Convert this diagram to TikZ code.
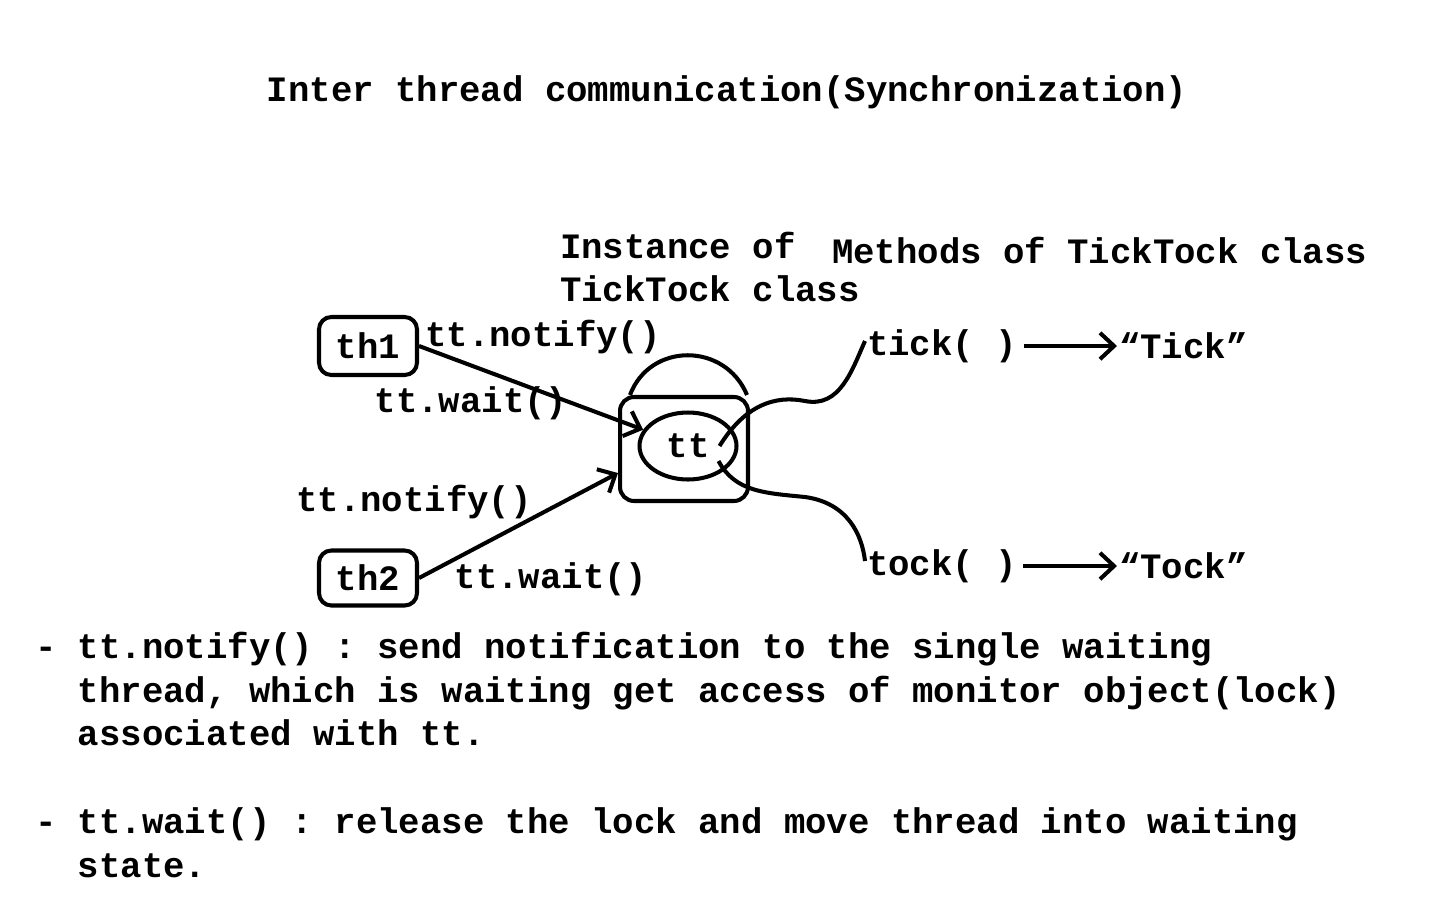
\documentclass[tikz,border=0pt]{standalone}
\usepackage{fontspec}
\setmainfont{Liberation Mono}
\frenchspacing
\usetikzlibrary{shapes.geometric,arrows.meta}
\tikzset{
  txt/.style={inner sep=0pt, font=\bfseries\fontsize{20.3}{25}\selectfont},
  threadbox/.style={txt, draw, rounded corners=7pt, minimum width=1.96cm, minimum height=1.16cm},
}
\begin{document}
\begin{tikzpicture}[x=0.02cm, y=-0.02cm, line width=2.3pt, >={Straight Barb[length=8pt,width=15pt]}]
\useasboundingbox (0,0) rectangle (1440,900);
\node[txt] (title) at (727,92) {Inter thread communication(Synchronization)};
\node[txt, align=left, anchor=west] (inst) at (558,267) {Instance of\\TickTock class};
\node[txt, anchor=west] (methods) at (830,250) {Methods of TickTock class};
\node[threadbox] (th1) at (368,346) {th1};
\node[threadbox, minimum height=1.1cm] (th2) at (368,578) {th2};
\node[draw, rounded corners=8pt, minimum width=2.56cm, minimum height=2.08cm] (lock) at (684,449) {};
\node[txt, draw, ellipse, minimum width=1.94cm, minimum height=1.34cm] (tt) at (688,446) {tt};
\draw ([xshift=0.24cm]lock.north west) .. controls (650,342) and (725,342) .. ([xshift=-0.06cm]lock.north east);
\node[txt] (notify1) at (543,337) {tt.notify()};
\node[txt] (wait1) at (471,403) {tt.wait()};
\node[txt] (notify2) at (414,502) {tt.notify()};
\node[txt] (wait2) at (551,579) {tt.wait()};
\draw[->] (th1.east) -- (tt.160);
\draw[->] (th2.east) -- (lock.200);
\node[txt, anchor=west] (tick) at (865,346) {tick( )};
\node[txt, anchor=west] (tickout) at (1117,346) {“Tick”};
\node[txt, anchor=west] (tock) at (865,566) {tock( )};
\node[txt, anchor=west] (tockout) at (1117,566) {“Tock”};
\draw[->] ([xshift=0.1cm]tick.east) -- (tickout.west);
\draw[->] ([xshift=0.08cm]tock.east) -- (tockout.west);
\draw ([xshift=-0.38cm]tt.east) .. controls (745,405) and (775,395) .. (805,401) .. controls (840,408) and (852,370) .. ([yshift=0.1cm]tick.west);
\draw ([xshift=-0.4cm,yshift=-0.3cm]tt.east) .. controls (735,492) and (765,493) .. (805,497) .. controls (848,503) and (862,535) .. ([yshift=0.1cm]tock.west);
% notes below the picture
\node[txt, align=left, anchor=west] (notifytext) at (33,689) {- tt.notify() : send notification to the single waiting\\\hphantom{- }thread, which is waiting get access of monitor object(lock)\\\hphantom{- }associated with tt.};
\node[txt, align=left, anchor=west] (waittext) at (33,843) {- tt.wait() : release the lock and move thread into waiting\\\hphantom{- }state.};
\end{tikzpicture}
\end{document}
